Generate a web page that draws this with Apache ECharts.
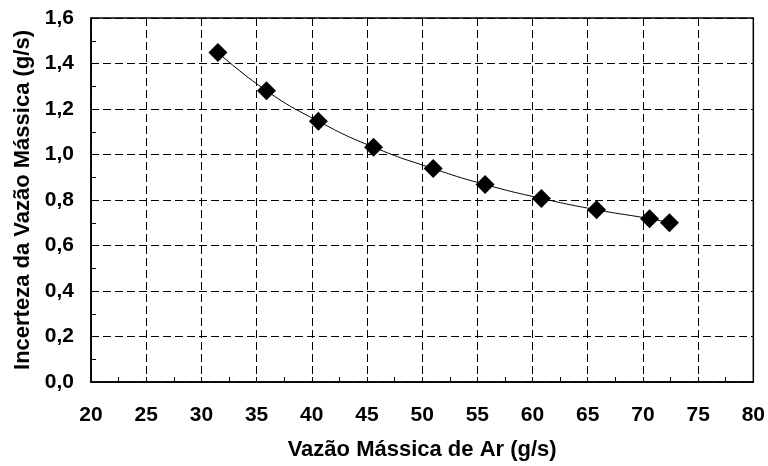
<!DOCTYPE html>
<html>
<head>
<meta charset="utf-8">
<script src="https://cdn.jsdelivr.net/npm/echarts@6/dist/echarts.min.js"></script>
<style>
  html, body { margin: 0; padding: 0; background: #fff; }
  #chart { width: 768px; height: 466px; }
</style>
</head>
<body>
<div id="chart"></div>
<script>
// Air mass flow (g/s) and the uncertainty of the mass flow (g/s)
const massFlow = [31.5, 35.9, 40.6, 45.6, 51.0, 55.7, 60.8, 65.8, 70.6, 72.4];
const uncertainty = [1.448, 1.280, 1.146, 1.032, 0.938, 0.868, 0.807, 0.757, 0.718, 0.700];

const xTitle = 'Vazão Mássica de Ar (g/s)';
const yTitle = 'Incerteza da Vazão Mássica (g/s)';

const points = massFlow.map((x, i) => [x, uncertainty[i]]);

const font = 'Liberation Sans, Arial, sans-serif';
const chart = echarts.init(document.getElementById('chart'), null, { renderer: 'canvas' });

chart.setOption({
  animation: false,
  backgroundColor: '#ffffff',
  grid: {
    left: 91, right: 13, top: 18, bottom: 83,
    show: true, borderColor: '#000', borderWidth: 1.5
  },
  xAxis: {
    type: 'value',
    min: 20, max: 80, interval: 5,
    name: xTitle,
    nameLocation: 'middle',
    nameGap: 57,
    nameTextStyle: { fontFamily: font, fontWeight: 'bold', fontSize: 22, color: '#000' },
    axisLine: { show: true, lineStyle: { color: '#000', width: 1.5 } },
    axisTick: { show: true, inside: true, length: 5, lineStyle: { color: '#000' } },
    minorTick: { show: true, splitNumber: 2, length: 5, lineStyle: { color: '#000' } },
    axisLabel: { fontFamily: font, fontWeight: 'bold', fontSize: 21, color: '#000', margin: 23 },
    splitLine: { show: true, lineStyle: { color: '#000', width: 1, type: [8, 4] } }
  },
  yAxis: {
    type: 'value',
    min: 0, max: 1.6, interval: 0.2,
    name: yTitle,
    nameLocation: 'middle',
    nameGap: 55,
    nameTextStyle: { fontFamily: font, fontWeight: 'bold', fontSize: 22, color: '#000' },
    axisLine: { show: true, lineStyle: { color: '#000', width: 1.5 } },
    axisTick: { show: true, inside: true, length: 5, lineStyle: { color: '#000' } },
    minorTick: { show: true, splitNumber: 2, length: 5, lineStyle: { color: '#000' } },
    axisLabel: {
      fontFamily: font, fontWeight: 'bold', fontSize: 21, color: '#000', margin: 17,
      formatter: v => v.toFixed(1).replace('.', ',')
    },
    splitLine: { show: true, lineStyle: { color: '#000', width: 1, type: [8, 4] } }
  },
  series: [{
    type: 'line',
    data: points,
    smooth: true,
    symbol: 'diamond',
    symbolSize: 19,
    itemStyle: { color: '#000' },
    lineStyle: { color: '#000', width: 1 }
  }]
});
</script>
</body>
</html>
